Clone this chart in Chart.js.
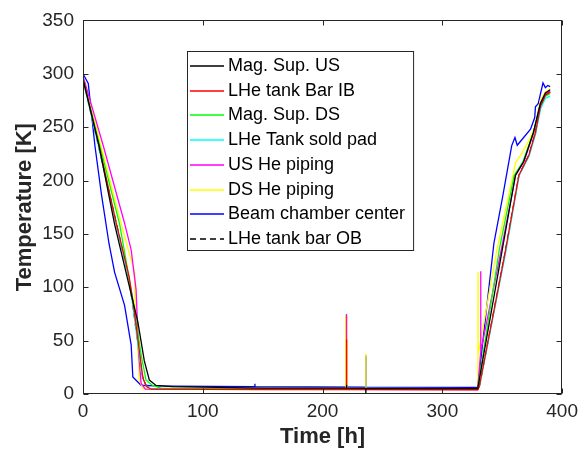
<!DOCTYPE html>
<html><head><meta charset="utf-8">
<script src="https://cdn.jsdelivr.net/npm/chart.js@4.4.1/dist/chart.umd.min.js"></script>
<style>html,body{margin:0;padding:0;background:#fff;}canvas{display:block;}</style>
</head><body>
<canvas id="c" width="584" height="451"></canvas>
<script>
// ---- data (time [h], temperature [K]) ----
const seriesNames = ["Mag. Sup. US","LHe tank Bar IB","Mag. Sup. DS","LHe Tank sold pad","US He piping","DS He piping","Beam chamber center","LHe tank bar OB"];
const xTicks = [0,100,200,300,400];
const yTicks = [0,50,100,150,200,250,300,350];

const magSupUS_t = [0,13.5,26.4,37.4,45.7,51.2,55.4,61,75,150,219.9,220,220.1,236,236.1,236.2,329.5,349.5,361,368,376,381.8,386,390];
const magSupUS_T = [295,232,159,107,68,31,13,8,7,5.5,5.5,8.5,5.5,5.3,0,5.3,5,132,205,218,245,272,282,285];

const tankBarIB_t = [0,13.5,28,38.5,42.5,46.5,50,53,57,150,219.9,220,220.1,329.5,330.8,352.3,363.9,372.2,377.7,381.8,386,390];
const tankBarIB_T = [296,232,159,110,80,45,15,7,4.5,4.2,4.2,51,4.2,4,6.7,132,205,223.6,245,269,280,283];

const magSupDS_t = [0,14,30.6,41.6,48.5,52.6,58,65,150,329.5,347.8,360,367,376,381.8,386,390];
const magSupDS_T = [296,233,159,89,37,13,8,5.5,5.2,5,137,205,217,245,272,279,281.6];

const tankPad_t = [0,13,27.5,38,42,46,49.5,52.5,56,150,329.5,331,352.8,364.2,372.5,378,382,386,390];
const tankPad_T = [294,232,159,110,80,45,16,8,5,4.8,4.8,7,132,205,223,244,267,277,279];

const usPiping_t = [0,16.8,34.7,40.2,44.3,46.5,48.5,52,150,219.8,219.9,220,329.5,331.9,332,332.1,349.5,361.2,368,376.3,381.8,386,390];
const usPiping_T = [298,233,160,135,98,37,10,4.5,4.3,4.3,75,4.3,4.2,38,115,40,137,205,217.4,245,272.4,281,284];

const dsPiping_t = [0,15,32,42,43,43.3,45.5,47,50,150,219.3,219.4,220.4,220.5,236,236.1,236.2,329.5,329.7,329.8,329.9,345.5,361.2,365.3,372.2,377.7,381.8,386,390];
const dsPiping_T = [297,233,159,118,114,88,50,13,5,4.5,4.5,73,73,4.5,4.5,38,4.5,4.4,37,114,37,135,217,223.6,237,251,275.5,283,286];

const beam_t = [0,4.4,9.9,15.4,21.7,26.4,34.7,40.2,41.6,48.5,60,75,143.4,143.5,143.6,236,236.1,236.2,329.5,343,350.2,357.9,360.6,362.5,373.6,377.1,377.7,380,384,386,388,390];
const beam_T = [300,291,233,187,141,114,83,46,16,8.2,7.6,7.4,7,9.5,7,6.5,36,6.5,6.3,141,184,232.7,240.3,233,248,259,269,272,291.4,287,289,288];

const tankBarOB_t = [0,13,28,38,42,46,49.8,52.6,56,150,329.5,330.8,352.3,363.9,372.2,377.7,381.8,386,390];
const tankBarOB_T = [295,232,159,110,80,45,16,8,5,4.5,4.3,6.7,132,205,223.6,245,269,280,283];

// ---- build datasets ----
const seriesT = [magSupUS_t,tankBarIB_t,magSupDS_t,tankPad_t,usPiping_t,dsPiping_t,beam_t,tankBarOB_t];
const seriesY = [magSupUS_T,tankBarIB_T,magSupDS_T,tankPad_T,usPiping_T,dsPiping_T,beam_T,tankBarOB_T];
const colors = ['#000000','#ff0000','#00ff00','#00ffff','#ff00ff','#ffff00','#0000ff','#000000'];
const dashes = [[],[],[],[],[],[],[],[6,4]];

const datasets = seriesNames.map((n,i)=>({
  label:n,
  data: seriesT[i].map((t,k)=>({x:t,y:seriesY[i][k]})),
  borderColor: colors[i], backgroundColor: colors[i],
  borderWidth: 1.3, borderDash: dashes[i],
  pointRadius:0, tension:0, fill:false
}));

const AX = '#262626';
const FONT = "'Liberation Sans', Arial, Helvetica, sans-serif";

const framePlugin = {
  id:'frame',
  afterDatasetsDraw(chart){
    const {ctx, chartArea:a, scales:{x,y}} = chart;
    ctx.save();
    ctx.strokeStyle = AX; ctx.lineWidth = 1;
    const L=Math.round(a.left)+0.5, R=Math.round(a.right)-0.5, T=Math.round(a.top)+0.5, B=Math.round(a.bottom)-0.5;
    ctx.strokeRect(L,T,R-L,B-T);
    const tl = 5;
    ctx.beginPath();
    xTicks.forEach(v=>{ const p=Math.round(x.getPixelForValue(v))+0.5;
      ctx.moveTo(p,B); ctx.lineTo(p,B-tl); ctx.moveTo(p,T); ctx.lineTo(p,T+tl); });
    yTicks.forEach(v=>{ const p=Math.round(y.getPixelForValue(v))+0.5;
      ctx.moveTo(L,p); ctx.lineTo(L+tl,p); ctx.moveTo(R,p); ctx.lineTo(R-tl,p); });
    ctx.stroke();
    ctx.restore();
  }
};

const legendPlugin = {
  id:'boxLegend',
  afterDraw(chart){
    const ctx = chart.ctx;
    const ds = chart.data.datasets;
    ctx.save();
    ctx.font = "18px " + FONT;
    let maxW = 0; ds.forEach(d=>{ maxW=Math.max(maxW, ctx.measureText(d.label).width); });
    const left=187, top=51, textX=228, row0=66, step=24.7;
    const w = (textX-left) + maxW + 8, h = 199;
    ctx.fillStyle='#fff';
    ctx.fillRect(left,top,w,h);
    ctx.strokeStyle=AX; ctx.lineWidth=1;
    ctx.strokeRect(left+0.5,top+0.5,w,h);
    ds.forEach((d,i)=>{
      const yy = Math.round(row0 + i*step);
      ctx.strokeStyle=d.borderColor; ctx.lineWidth=1.6; ctx.setLineDash(d.borderDash||[]);
      ctx.beginPath(); ctx.moveTo(190,yy); ctx.lineTo(224,yy); ctx.stroke();
      ctx.setLineDash([]);
      ctx.fillStyle='#000'; ctx.textBaseline='middle'; ctx.textAlign='left';
      ctx.fillText(d.label, textX, yy);
    });
    ctx.restore();
  }
};

Chart.defaults.font.family = FONT;

new Chart(document.getElementById('c'), {
  type:'line',
  data:{datasets},
  options:{
    responsive:false, animation:false, devicePixelRatio:1,
    layout:{padding:{top:12,right:17,left:0,bottom:0}},
    plugins:{legend:{display:false}, tooltip:{enabled:false}},
    scales:{
      x:{type:'linear', min:0, max:400,
        afterFit(s){ s.height = 57; },
        afterBuildTicks(s){ s.ticks = xTicks.map(v=>({value:v})); },
        grid:{display:false, drawTicks:false}, border:{display:false},
        ticks:{color:AX, font:{size:19}, padding:6, maxRotation:0},
        title:{display:true, text:'Time [h]', color:AX, font:{size:22, weight:'bold'}, padding:{top:0,bottom:1}}
      },
      y:{type:'linear', min:0, max:350,
        afterFit(s){ s.width = 83; },
        afterBuildTicks(s){ s.ticks = yTicks.map(v=>({value:v})); },
        grid:{display:false, drawTicks:false}, border:{display:false},
        ticks:{color:AX, font:{size:19}, padding:9},
        title:{display:true, text:'Temperature [K]', color:AX, font:{size:22, weight:'bold'}, padding:{top:12,bottom:0}}
      }
    }
  },
  plugins:[framePlugin, legendPlugin]
});
</script>
</body></html>
